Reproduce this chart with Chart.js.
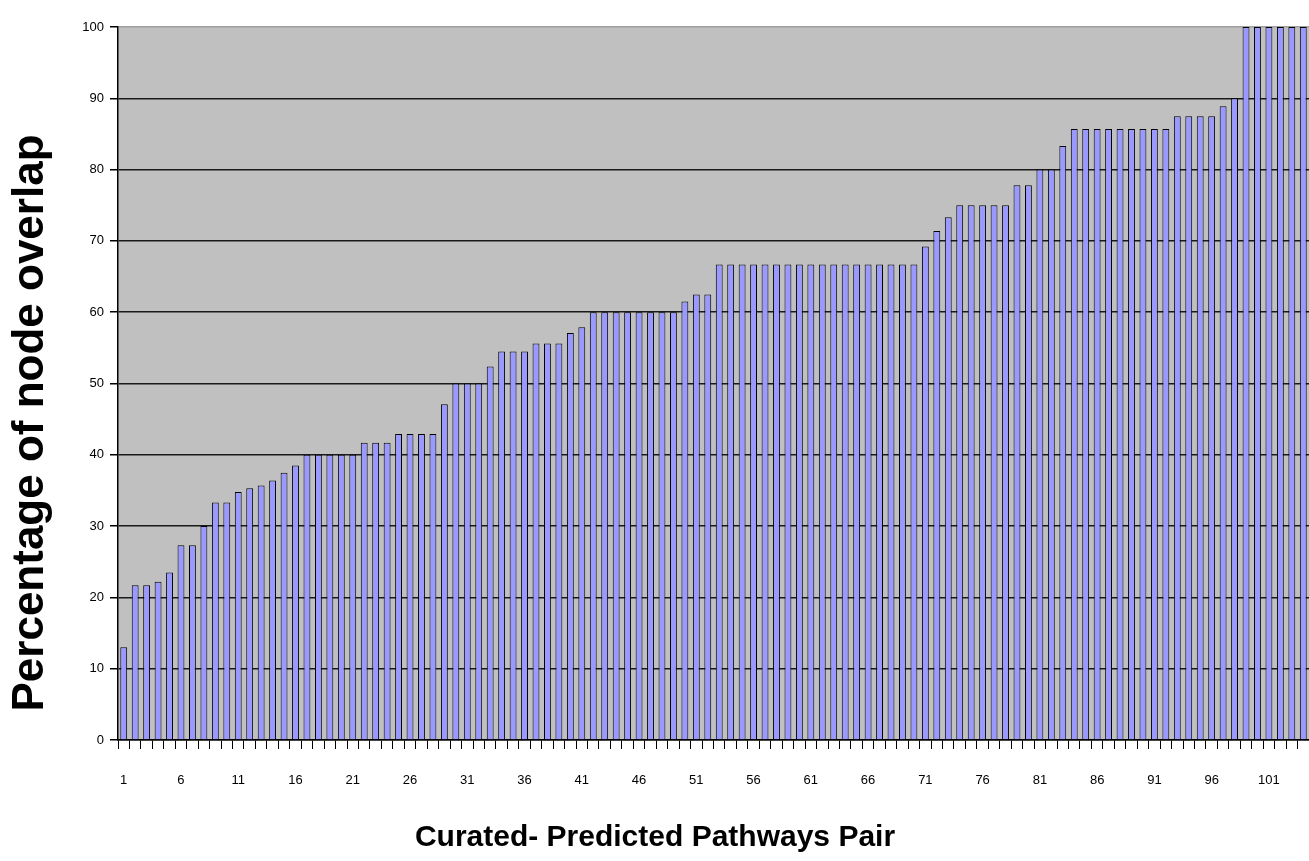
<!DOCTYPE html>
<html>
<head>
<meta charset="utf-8">
<script src="https://cdn.jsdelivr.net/npm/chart.js@4"></script>
<style>
  html, body { margin: 0; padding: 0; background: #fff; overflow: hidden; }
  #wrap { width: 1309px; height: 861px; }
</style>
</head>
<body>
<div id="wrap"><canvas id="overlapChart"></canvas></div>
<script>
// Percentage of node overlap per curated/predicted pathway pair
const overlap = [
    13, 21.7, 21.7, 22.2, 23.5, 27.3, 27.3, 30, 33.3, 33.3,
    34.8, 35.3, 35.7, 36.4, 37.5, 38.5, 40, 40, 40, 40,
    40, 41.7, 41.7, 41.7, 42.9, 42.9, 42.9, 42.9, 47.1, 50,
    50, 50, 52.4, 54.5, 54.5, 54.5, 55.6, 55.6, 55.6, 57.1,
    57.9, 60, 60, 60, 60, 60, 60, 60, 60, 61.5,
    62.5, 62.5, 66.7, 66.7, 66.7, 66.7, 66.7, 66.7, 66.7, 66.7,
    66.7, 66.7, 66.7, 66.7, 66.7, 66.7, 66.7, 66.7, 66.7, 66.7,
    69.2, 71.4, 73.3, 75, 75, 75, 75, 75, 77.8, 77.8,
    80, 80, 83.3, 85.7, 85.7, 85.7, 85.7, 85.7, 85.7, 85.7,
    85.7, 85.7, 87.5, 87.5, 87.5, 87.5, 88.9, 90, 100, 100,
    100, 100, 100, 100
];
const pairs = overlap.map((v, i) => String(i + 1));
const yTicks = [0, 10, 20, 30, 40, 50, 60, 70, 80, 90, 100];
const yTitle = "Percentage of node overlap";
const xTitle = "Curated- Predicted Pathways Pair";

// grey plot area + the two axis titles
const decor = {
    id: "decor",
    beforeDraw(chart) {
        const { ctx, chartArea: a } = chart;
        ctx.save();
        ctx.fillStyle = "#c0c0c0";
        ctx.fillRect(a.left, a.top, a.right - a.left, a.bottom - a.top);
        ctx.restore();
    },
    afterDraw(chart) {
        const ctx = chart.ctx;
        ctx.save();
        ctx.fillStyle = "#000";
        ctx.textAlign = "center";
        ctx.textBaseline = "middle";
        ctx.font = 'bold 44px "Liberation Sans", Arial, sans-serif';
        ctx.translate(31, 423);
        ctx.rotate(-Math.PI / 2);
        ctx.fillText(yTitle, 0, 0);
        ctx.restore();

        ctx.save();
        ctx.fillStyle = "#000";
        ctx.textAlign = "center";
        ctx.textBaseline = "middle";
        ctx.font = 'bold 30px "Liberation Sans", Arial, sans-serif';
        ctx.fillText(xTitle, 655, 838);
        ctx.restore();
    }
};

const ctx = document.getElementById("overlapChart").getContext("2d");
const overlapChart = new Chart(ctx, {
    type: "bar",
    data: {
        labels: pairs,
        datasets: [{
            label: yTitle,
            data: overlap,
            backgroundColor: "#9999ff",
            borderColor: "#000",
            borderWidth: 1,
            barPercentage: 0.6,
            categoryPercentage: 1
        }]
    },
    options: {
        responsive: true,
        maintainAspectRatio: false,
        animation: false,
        layout: { padding: { top: 27, left: 0, right: 0, bottom: 0 } },
        plugins: {
            legend: { display: false },
            tooltip: { enabled: false }
        },
        scales: {
            x: {
                offset: true,
                afterFit: s => {
                    s.height = 121;
                    // plot runs off the right edge like the original
                    s.paddingLeft = 0;
                    s.paddingRight = 0;
                },
                border: { display: true, color: "#000", width: 1.5 },
                grid: {
                    offset: true,
                    drawOnChartArea: false,
                    drawTicks: true,
                    tickLength: 9,
                    color: "#000",
                    lineWidth: 1
                },
                ticks: {
                    autoSkip: false,
                    maxRotation: 0,
                    padding: 24,
                    color: "#000",
                    font: { family: '"Liberation Sans", Arial', size: 13 },
                    callback: (v, i) => (i % 5 === 0 ? pairs[i] : "")
                }
            },
            y: {
                min: 0,
                max: 100,
                afterFit: s => { s.width = 118; },
                afterBuildTicks: s => { s.ticks = yTicks.map(v => ({ value: v })); },
                border: { display: true, color: "#000", width: 1.5 },
                grid: {
                    color: c => (c.tick && c.tick.value === 100 ? "#a0a0a0" : "#1a1a1a"),
                    lineWidth: 1.5,
                    tickLength: 8,
                    tickColor: "#000"
                },
                ticks: {
                    padding: 6,
                    color: "#000",
                    font: { family: '"Liberation Sans", Arial', size: 13 }
                }
            }
        }
    },
    plugins: [decor]
});
</script>
</body>
</html>
